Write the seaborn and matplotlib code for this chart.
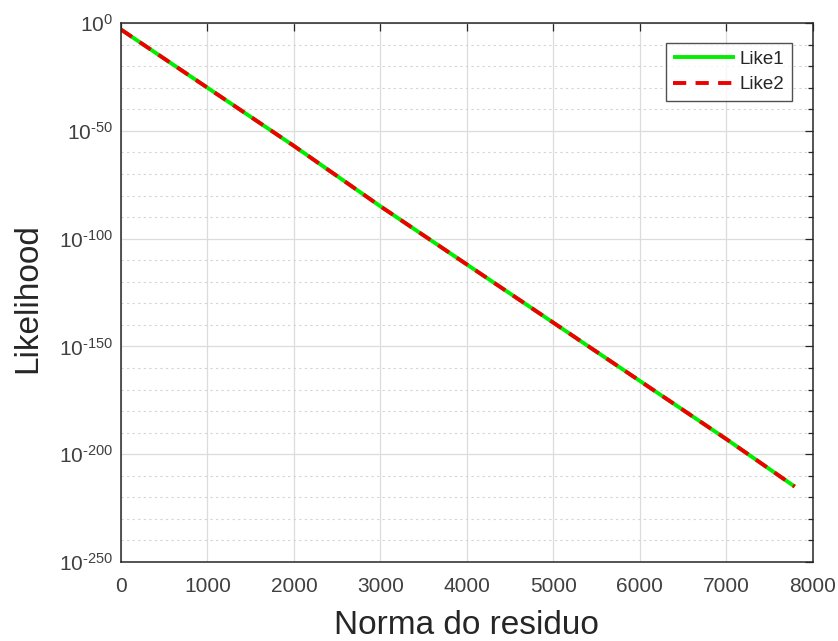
import numpy as np
import pandas as pd
import matplotlib
matplotlib.use("Agg")
import matplotlib.pyplot as plt
import matplotlib.ticker as mticker
import seaborn as sns

# ---- data ----
residual_norm = [0, 1000, 2000, 3000, 4000, 5000, 6000, 7000, 7790]
like1 = [1e-3, 1e-30, 1e-57, 1e-85, 1e-112, 1e-139, 1e-166, 1e-193, 1e-215]
like2 = [1e-3, 1e-30, 1e-57, 1e-85, 1e-112, 1e-139, 1e-166, 1e-193, 1e-215]
series_names = ["Like1", "Like2"]
x_ticks = [0, 1000, 2000, 3000, 4000, 5000, 6000, 7000, 8000]
y_major_exp = [0, -50, -100, -150, -200, -250]

sns.set_style("white")
plt.rcParams["font.family"] = ["Liberation Sans", "DejaVu Sans"]
plt.rcParams["mathtext.fontset"] = "custom"
plt.rcParams["mathtext.rm"] = "Liberation Sans"
plt.rcParams["mathtext.it"] = "Liberation Sans:italic"
plt.rcParams["mathtext.bf"] = "Liberation Sans:bold"
plt.rcParams["mathtext.default"] = "regular"

df = pd.DataFrame({
    "x": residual_norm * 2,
    "y": like1 + like2,
    "series": [series_names[0]] * len(like1) + [series_names[1]] * len(like2),
})

fig = plt.figure(figsize=(8.38, 6.41), dpi=100)
ax = fig.add_axes([0.1444, 0.1232, 0.8256, 0.8408])

sns.lineplot(data=df[df.series == "Like1"], x="x", y="y", ax=ax,
             color="#00ee00", lw=2.8, label="Like1", solid_capstyle="butt")
sns.lineplot(data=df[df.series == "Like2"], x="x", y="y", ax=ax,
             color="#ee0000", lw=2.8, label="Like2", dashes=False)
ax.lines[1].set_linestyle((0, (3.4, 2.4)))
ax.lines[1].set_dash_capstyle("butt")

ax.set_yscale("log")
ax.set_xlim(0, 8000)
ax.set_ylim(1e-250, 1e0)

ax.xaxis.set_major_locator(mticker.FixedLocator(x_ticks))
ax.set_xticklabels([str(v) for v in x_ticks])
major_locs = [10.0 ** e for e in y_major_exp]
minor_locs = [10.0 ** e for e in range(0, -251, -10) if e % 50 != 0]
ax.yaxis.set_major_locator(mticker.FixedLocator(major_locs))
ax.yaxis.set_minor_locator(mticker.FixedLocator(minor_locs))
ax.yaxis.set_major_formatter(mticker.FixedFormatter(
    [f"$10^{{\u2010{-e}}}$" if e < 0 else f"$10^{{{e}}}$" for e in y_major_exp]))
ax.yaxis.set_minor_formatter(mticker.NullFormatter())

ax.grid(True, which="major", color="#dcdcdc", lw=0.9, ls="-")
ax.grid(True, which="minor", axis="y", color="#d4d4d4", lw=0.8, ls=(0, (2, 3)))
ax.set_axisbelow(True)

ax.tick_params(which="both", direction="in", top=True, right=True,
               colors="#262626", labelcolor="#404040")
ax.tick_params(which="major", length=6, width=0.9, labelsize=15)
ax.tick_params(axis="x", which="major", pad=11)
ax.tick_params(axis="y", which="major", pad=6)
ax.tick_params(which="minor", length=3.5, width=0.9)
for s in ax.spines.values():
    s.set_color("#262626")
    s.set_linewidth(1.1)
    s.set_visible(True)

ax.set_xlabel("Norma do residuo", fontsize=24, color="#262626", labelpad=10)
ax.set_ylabel("Likelihood", fontsize=24, color="#262626")
ax.yaxis.set_label_coords(-0.113, 0.49)

leg = ax.legend(loc="upper right", bbox_to_anchor=(0.9697, 0.963), fontsize=13.5,
                fancybox=False, frameon=True, edgecolor="#262626",
                handlelength=3.3, handletextpad=0.25, borderpad=0.4,
                labelspacing=0.45, borderaxespad=0.0)
leg.get_frame().set_linewidth(1.0)

fig.savefig("out.png", dpi=100)
